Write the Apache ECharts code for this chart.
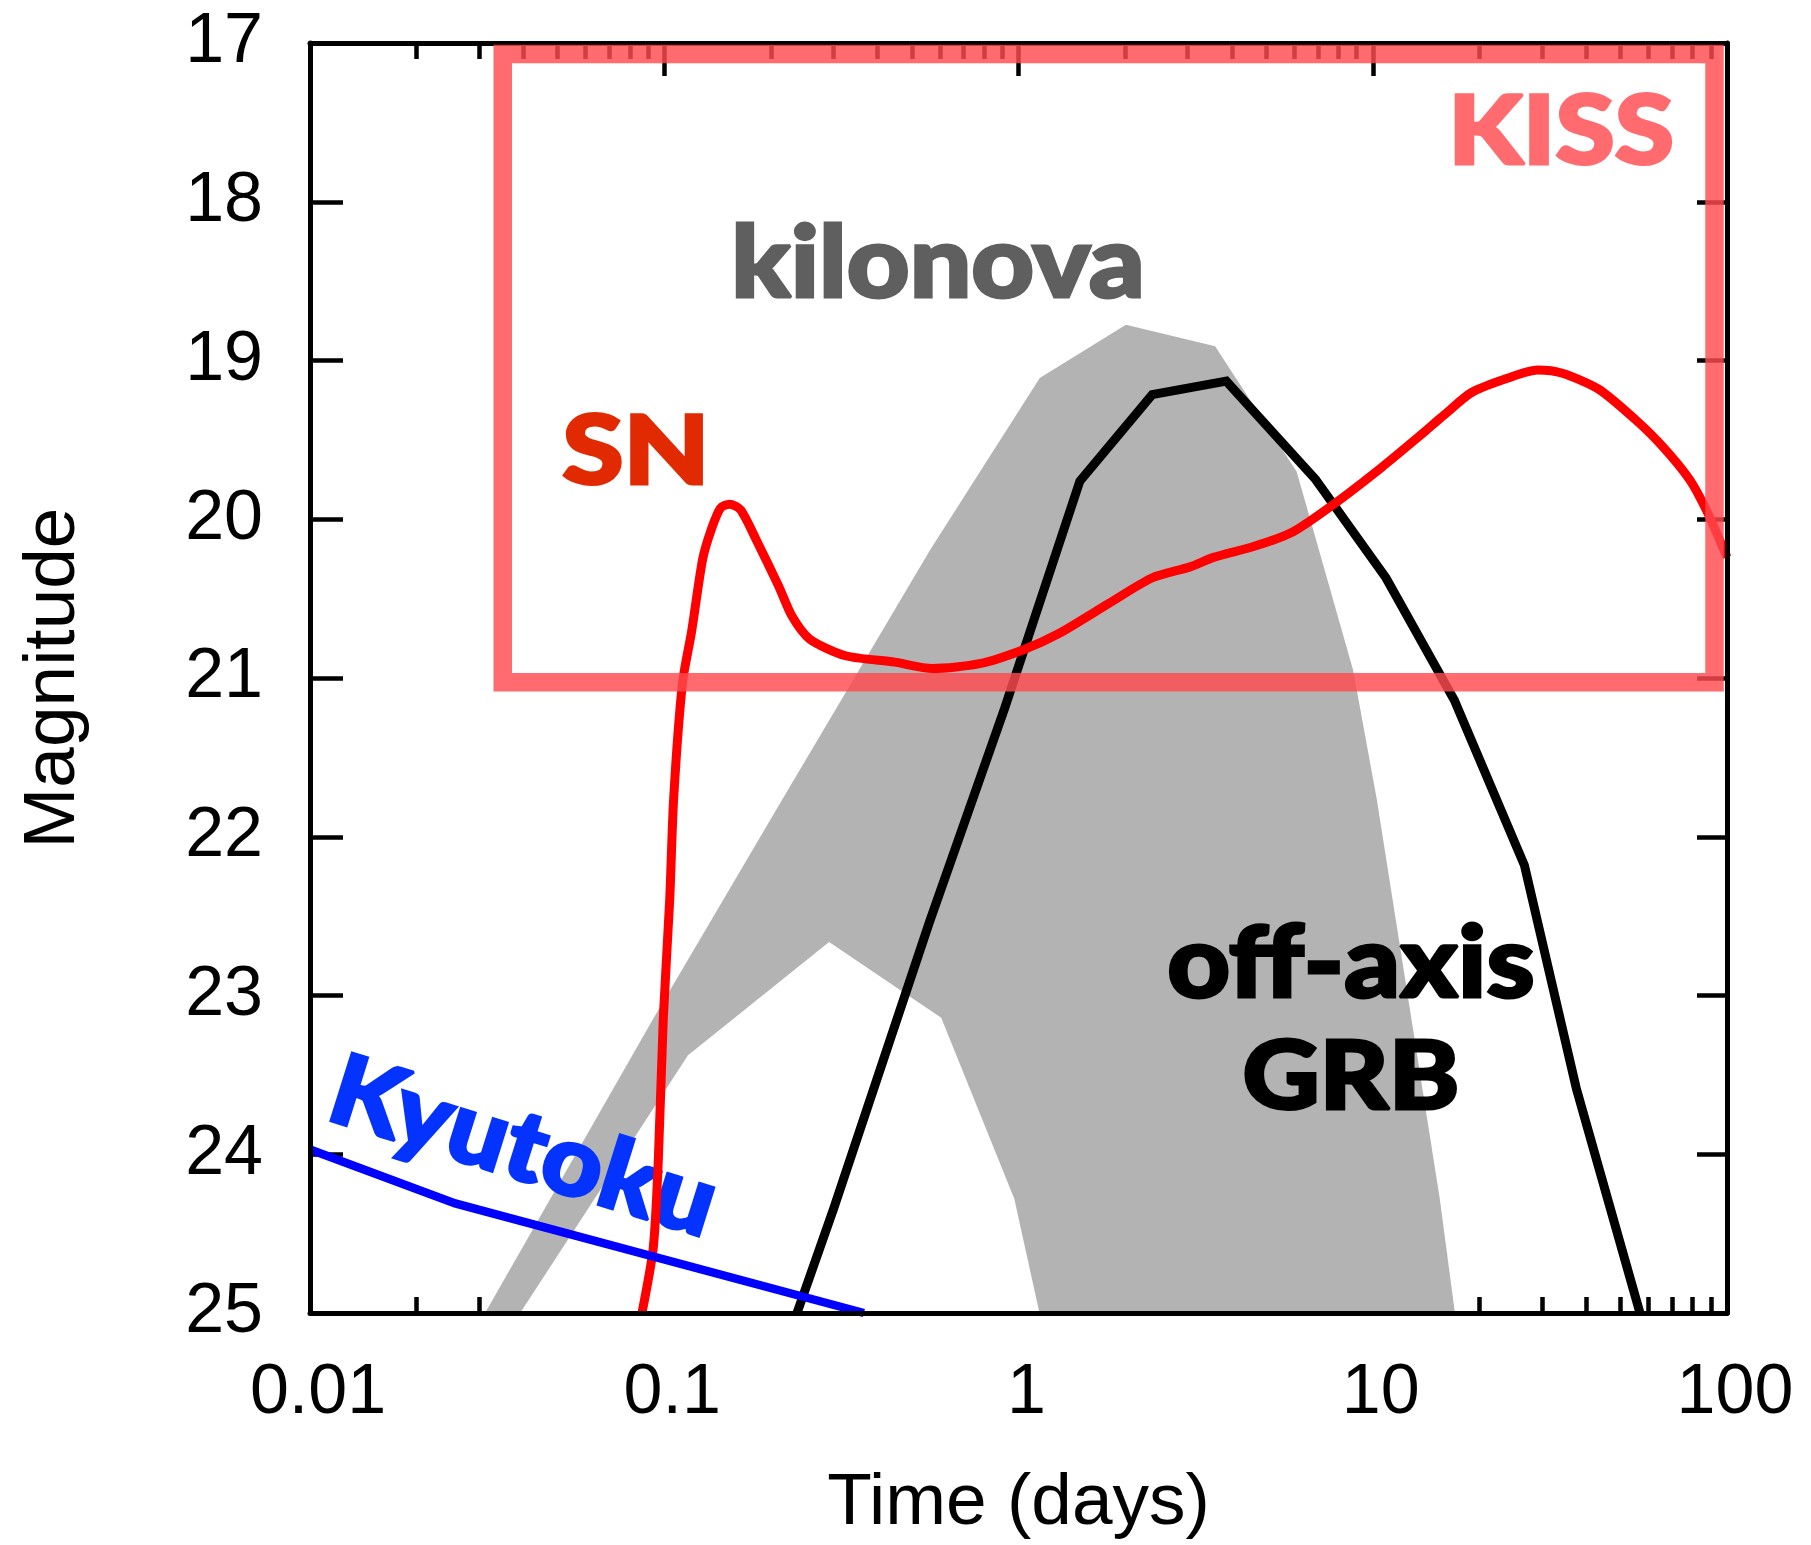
<!DOCTYPE html>
<html>
<head>
<meta charset="utf-8">
<script src="https://cdn.jsdelivr.net/npm/echarts@6/dist/echarts.min.js"></script>
<style>
  html, body { margin: 0; padding: 0; background: #ffffff; }
  #chart { width: 1811px; height: 1545px; }
</style>
</head>
<body>
<div id="chart"></div>
<script>
// Optical light curves: time since merger (days, log) vs apparent magnitude.

// Supernova light curve [days, mag]
const snCurve = [
  [0.0865, 25.0], [0.0931, 24.59], [0.0962, 24.04], [0.0994, 23.14], [0.1036, 22.40],
  [0.1063, 21.76], [0.1126, 21.03], [0.1194, 20.71], [0.1284, 20.25], [0.136, 20.06],
  [0.1441, 19.93], [0.1527, 19.905], [0.1642, 19.94], [0.1819, 20.13], [0.2102, 20.42],
  [0.2293, 20.61], [0.2574, 20.755], [0.3248, 20.86], [0.4468, 20.90], [0.572, 20.94],
  [0.776, 20.91], [1.037, 20.82], [1.30, 20.72], [1.80, 20.53], [2.38, 20.37],
  [3.05, 20.30], [3.55, 20.24], [4.63, 20.17], [5.94, 20.08], [7.87, 19.895],
  [10.57, 19.675], [13.38, 19.486], [15.96, 19.34], [19.05, 19.20], [24.1, 19.11],
  [29.2, 19.06], [34.3, 19.08], [43.4, 19.18], [55.0, 19.37], [65.7, 19.54],
  [78.4, 19.75], [88.2, 19.96], [100, 20.24]
];

// Off-axis GRB afterglow [days, mag]
const grbCurve = [
  [0.237, 25.0], [0.301, 24.34], [0.56, 22.54], [0.914, 21.19], [1.49, 19.76],
  [2.385, 19.215], [3.86, 19.13], [6.9, 19.75], [10.9, 20.37], [17.0, 21.14],
  [26.8, 22.18], [37.6, 23.59], [56.8, 25.0]
];

// Kyutoku model [days, mag]
const kyutokuCurve = [
  [0.01, 23.97], [0.0257, 24.31], [0.366, 25.0]
];

// Kilonova range: bright envelope and faint envelope [days, mag]
const kilonovaBright = [
  [0.0312, 25.0], [0.0929, 23.15], [0.216, 21.76], [0.564, 20.19], [1.148, 19.11],
  [2.01, 18.775], [3.59, 18.91], [6.1, 19.70], [8.8, 20.95], [10.26, 21.76],
  [15.46, 24.28], [17.06, 25.0]
];
const kilonovaFaint = [
  [0.0392, 25.0], [0.1167, 23.377], [0.292, 22.663], [0.605, 23.14], [0.973, 24.28],
  [1.146, 25.0]
];

// KISS search window: [days, mag] corners
const kissWindow = [[0.035, 17.07], [92.2, 21.027]];

// Axis ticks
const xMajorTicks = [0.01, 0.1, 1, 10, 100];
const xTickLabels = ['0.01', '0.1', '1', '10', '100'];
const xMinorTicks = [];
[0.01, 0.1, 1, 10].forEach(function (d) {
  for (let k = 2; k <= 9; k++) xMinorTicks.push(+(k * d).toPrecision(3));
});
const yTicks = [17, 18, 19, 20, 21, 22, 23, 24, 25];

// Text annotations placed in data coordinates
const boldFont = 'Lato, "Open Sans", sans-serif';
const annotations = [
  { text: 'KISS', at: [34.0, 17.565], color: '#ff6b6f', size: 96, stretch: 1.12 },
  { text: 'kilonova', at: [0.593, 18.40], color: '#5f5f5f', size: 99, stretch: 1.1 },
  { text: 'SN', at: [0.0832, 19.58], color: '#e22a02', size: 96, stretch: 1.16 },
  { text: 'off-axis', at: [8.68, 22.805], color: '#000000', size: 100, stretch: 1.09 },
  { text: 'GRB', at: [8.68, 23.52], color: '#000000', size: 96, stretch: 1.11 },
  { text: 'Kyutoku', at: [0.040, 23.96], color: '#0433ff', size: 98, stretch: 1.07, rotate: -17.4 }
];

const tickFont = '"Liberation Sans", Arial, Helvetica, sans-serif';

const chart = echarts.init(document.getElementById('chart'), null, { renderer: 'canvas' });

function xAxisBase(position) {
  return {
    type: 'log', logBase: 10, min: 0.01, max: 100, gridIndex: 0, position: position,
    axisLine: { show: false, onZero: false },
    axisTick: { show: false },
    axisLabel: { show: false },
    splitLine: { show: false },
    minorTick: { show: false }
  };
}
function yAxisBase(position) {
  return {
    type: 'value', inverse: true, min: 17, max: 25, interval: 1, gridIndex: 0, position: position,
    axisLine: { show: false, onZero: false },
    axisTick: { show: false },
    axisLabel: { show: false },
    splitLine: { show: false }
  };
}
const majorTick = { show: true, inside: true, length: 33, lineStyle: { color: '#000', width: 4.5 } };
const minorTickStyle = { show: true, inside: true, length: 16, lineStyle: { color: '#000', width: 4.5 } };
const frameLine = { show: true, onZero: false, lineStyle: { color: '#000', width: 5 } };

const xAxes = [
  // bottom: labels + decade ticks
  Object.assign(xAxisBase('bottom'), {
    name: 'Time (days)', nameLocation: 'middle', nameGap: 154,
    nameTextStyle: { fontFamily: tickFont, fontSize: 73, color: '#000' },
    axisTick: Object.assign({ customValues: xMajorTicks }, majorTick),
    axisLabel: {
      show: true, customValues: xMajorTicks, margin: 46, padding: [0, 0, 0, 16],
      fontFamily: tickFont, fontSize: 70, color: '#000',
      formatter: function (v) {
        const i = xMajorTicks.findIndex(function (t) { return Math.abs(Math.log10(t) - Math.log10(v)) < 1e-6; });
        return i >= 0 ? xTickLabels[i] : '';
      }
    }
  }),
  // bottom: minor ticks
  Object.assign(xAxisBase('bottom'), { axisTick: Object.assign({ customValues: xMinorTicks }, minorTickStyle) }),
  // top: decade ticks
  Object.assign(xAxisBase('top'), { axisTick: Object.assign({ customValues: xMajorTicks }, majorTick) }),
  // top: minor ticks
  Object.assign(xAxisBase('top'), { axisTick: Object.assign({ customValues: xMinorTicks }, minorTickStyle) }),
  // frame lines above the filled regions
  Object.assign(xAxisBase('bottom'), { axisLine: frameLine, z: 7 }),
  Object.assign(xAxisBase('top'), { axisLine: frameLine, z: 7 })
];

const yAxes = [
  Object.assign(yAxisBase('left'), {
    name: 'Magnitude', nameLocation: 'middle', nameGap: 220,
    nameTextStyle: { fontFamily: tickFont, fontSize: 73, color: '#000' },
    axisTick: Object.assign({ customValues: yTicks }, majorTick),
    axisLabel: {
      show: true, margin: 47, fontFamily: tickFont, fontSize: 70, color: '#000',
      formatter: function (v) { return String(v); }
    }
  }),
  Object.assign(yAxisBase('right'), { axisTick: Object.assign({ customValues: yTicks }, majorTick, { length: 30 }) }),
  Object.assign(yAxisBase('left'), { axisLine: frameLine, z: 7 }),
  Object.assign(yAxisBase('right'), { axisLine: frameLine, z: 7 })
];

function regionSeries(verts, color, z) {
  return {
    type: 'custom', xAxisIndex: 0, yAxisIndex: 0, z: z, silent: true,
    data: [verts[0]],
    renderItem: function (params, api) {
      return {
        type: 'polygon',
        shape: { points: verts.map(function (p) { return api.coord(p); }) },
        style: { fill: color }
      };
    }
  };
}

function curveSeries(name, data, color, width, z, smooth) {
  return {
    name: name, type: 'line', xAxisIndex: 0, yAxisIndex: 0, z: z,
    data: data, symbol: 'none', smooth: smooth || false, clip: true, silent: true,
    lineStyle: { color: color, width: width, join: smooth ? 'round' : 'miter', cap: 'butt' }
  };
}

const option = {
  animation: false,
  backgroundColor: '#ffffff',
  grid: { left: 310, right: 84, top: 43, bottom: 230, containLabel: false },
  xAxis: xAxes,
  yAxis: yAxes,
  series: [
    regionSeries(kilonovaBright, '#b3b3b3', 2),
    regionSeries(kilonovaFaint, '#ffffff', 2),
    {
      type: 'custom', xAxisIndex: 0, yAxisIndex: 0, z: 3, silent: true,
      data: annotations.map(function (a) { return a.at; }),
      renderItem: function (params, api) {
        const a = annotations[params.dataIndex];
        const p = api.coord(a.at);
        return {
          type: 'text', x: p[0], y: p[1],
          rotation: (a.rotate || 0) * Math.PI / 180,
          scaleX: a.stretch || 1, scaleY: 1,
          style: {
            text: a.text, fill: a.color, stroke: a.color, lineWidth: 3,
            fontFamily: boldFont, fontWeight: 900,
            fontSize: a.size, align: 'center', verticalAlign: 'middle'
          }
        };
      }
    },
    curveSeries('off-axis GRB', grbCurve, '#000000', 9, 4, false),
    curveSeries('SN', snCurve, '#ff0000', 9, 5, 0.25),
    curveSeries('Kyutoku', kyutokuCurve, '#0000ff', 8.5, 6, false),
    {
      type: 'custom', xAxisIndex: 0, yAxisIndex: 0, z: 8, silent: true,
      data: [kissWindow[0]],
      renderItem: function (params, api) {
        const a = api.coord(kissWindow[0]);
        const b = api.coord(kissWindow[1]);
        return {
          type: 'rect',
          shape: {
            x: Math.min(a[0], b[0]), y: Math.min(a[1], b[1]),
            width: Math.abs(b[0] - a[0]), height: Math.abs(b[1] - a[1])
          },
          style: { fill: 'none', stroke: 'rgba(255,74,79,0.82)', lineWidth: 18.5, lineJoin: 'miter' }
        };
      }
    }
  ]
};

chart.setOption(option);
</script>
</body>
</html>
